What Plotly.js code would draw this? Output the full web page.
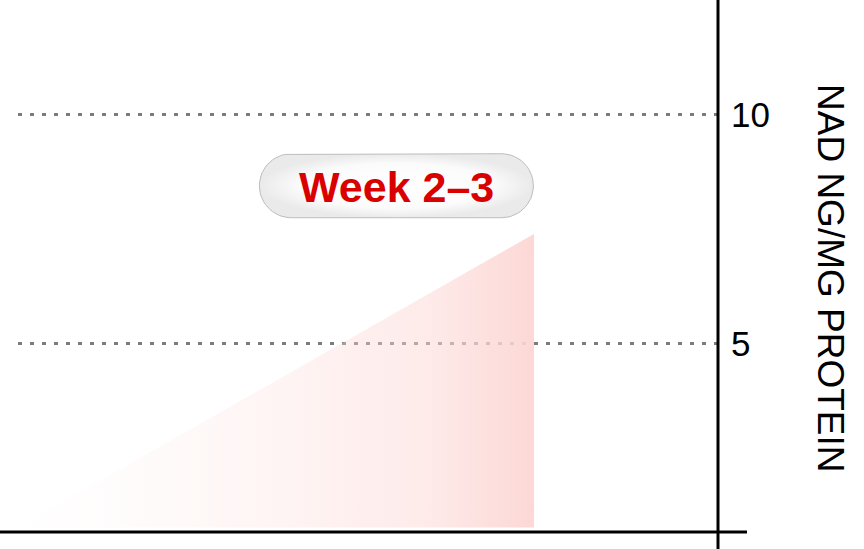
<!DOCTYPE html>
<html>
<head>
<meta charset="utf-8">
<script src="https://cdn.plot.ly/plotly-3.0.1.min.js"></script>
<style>
  html, body { margin: 0; padding: 0; background: #fff; }
  #chart { width: 864px; height: 549px; }
</style>
</head>
<body>
<div id="chart"></div>
<script>
// data
var rampWeeks = [0, 3, 3, 0];
var rampNad = [1.0, 7.4, 1.0, 1.0];
var tickValues = [5, 10];
var tickLabels = ['5', '10'];
var labelText = 'Week 2\u20133';
var labelWeek = 2.2;
var labelNad = 8.45;
var axisTitle = 'NAD NG/MG PROTEIN';

var font = 'Liberation Sans, Arial, sans-serif';
var xRange = [0, 4.07];
var yRange = [0.9, 12.5];

// pill outline for the label, in px of the plot area (overlay axes)
var plotW = 700, plotH = 532;
var pillW = 274, pillH = 64;
var pcx = (labelWeek - xRange[0]) / (xRange[1] - xRange[0]) * plotW;
var pcy = (labelNad - yRange[0]) / (yRange[1] - yRange[0]) * plotH;
var r = pillH / 2, half = pillW / 2 - r;
var pillX = [], pillY = [];
for (var a = -90; a <= 90; a += 6) {
  var t = a * Math.PI / 180;
  pillX.push(pcx + half + r * Math.cos(t));
  pillY.push(pcy + r * Math.sin(t));
}
for (var a = 90; a <= 270; a += 6) {
  var t = a * Math.PI / 180;
  pillX.push(pcx - half + r * Math.cos(t));
  pillY.push(pcy + r * Math.sin(t));
}
pillX.push(pillX[0]);
pillY.push(pillY[0]);

var ramp = {
  x: rampWeeks,
  y: rampNad,
  mode: 'lines',
  fill: 'toself',
  line: {width: 0, color: 'rgba(0,0,0,0)'},
  fillgradient: {
    type: 'horizontal',
    colorscale: [
      [0, 'rgba(252,214,211,0)'],
      [0.16, 'rgba(252,214,211,0.06)'],
      [0.55, 'rgba(252,214,211,0.28)'],
      [0.8, 'rgba(252,214,211,0.5)'],
      [1, 'rgba(252,214,211,0.95)']
    ]
  },
  hoverinfo: 'skip',
  showlegend: false
};

var pill = {
  x: pillX,
  y: pillY,
  xaxis: 'x2',
  yaxis: 'y2',
  mode: 'lines',
  fill: 'toself',
  line: {width: 1, color: '#bdbdbd'},
  fillgradient: {
    type: 'radial',
    colorscale: [
      [0, '#ffffff'],
      [0.7, '#fbfbfb'],
      [1, '#eaeaea']
    ]
  },
  hoverinfo: 'skip',
  showlegend: false
};

var layout = {
  width: 864,
  height: 549,
  margin: {l: 18, r: 146, t: 0, b: 17, pad: 0},
  paper_bgcolor: '#ffffff',
  plot_bgcolor: 'rgba(0,0,0,0)',
  showlegend: false,
  font: {family: font, color: '#000'},
  xaxis: {
    range: xRange,
    visible: false,
    fixedrange: true
  },
  yaxis: {
    range: yRange,
    side: 'right',
    tickvals: tickValues,
    ticktext: tickLabels,
    ticks: '',
    ticklabelstandoff: 12,
    tickfont: {family: font, size: 35, color: '#000'},
    showgrid: true,
    gridcolor: '#7c7c7c',
    gridwidth: 3,
    griddash: '4px,8px',
    zeroline: false,
    showline: false,
    fixedrange: true
  },
  xaxis2: {range: [0, plotW], overlaying: 'x', visible: false, fixedrange: true},
  yaxis2: {range: [0, plotH], overlaying: 'y', visible: false, fixedrange: true},
  shapes: [
    {
      type: 'line', xref: 'paper', yref: 'paper',
      x0: -18 / 700, x1: 729 / 700, y0: 0, y1: 0,
      line: {color: '#000', width: 3}
    },
    {
      type: 'line', xref: 'paper', yref: 'paper',
      x0: 1, x1: 1, y0: -17 / 532, y1: 1,
      line: {color: '#000', width: 3}
    }
  ],
  annotations: [
    {
      text: labelText,
      x: labelWeek, y: labelNad,
      xref: 'x', yref: 'y',
      yshift: -1,
      showarrow: false,
      font: {family: font, size: 43, color: '#d90000', weight: 'bold'}
    },
    {
      text: axisTitle,
      xref: 'paper', yref: 'paper',
      x: 812 / 700, y: 254 / 532,
      xanchor: 'center', yanchor: 'middle',
      textangle: 90,
      showarrow: false,
      font: {family: font, size: 37, color: '#000'}
    }
  ]
};

Plotly.newPlot('chart', [ramp, pill], layout, {displayModeBar: false, staticPlot: true});
</script>
</body>
</html>
